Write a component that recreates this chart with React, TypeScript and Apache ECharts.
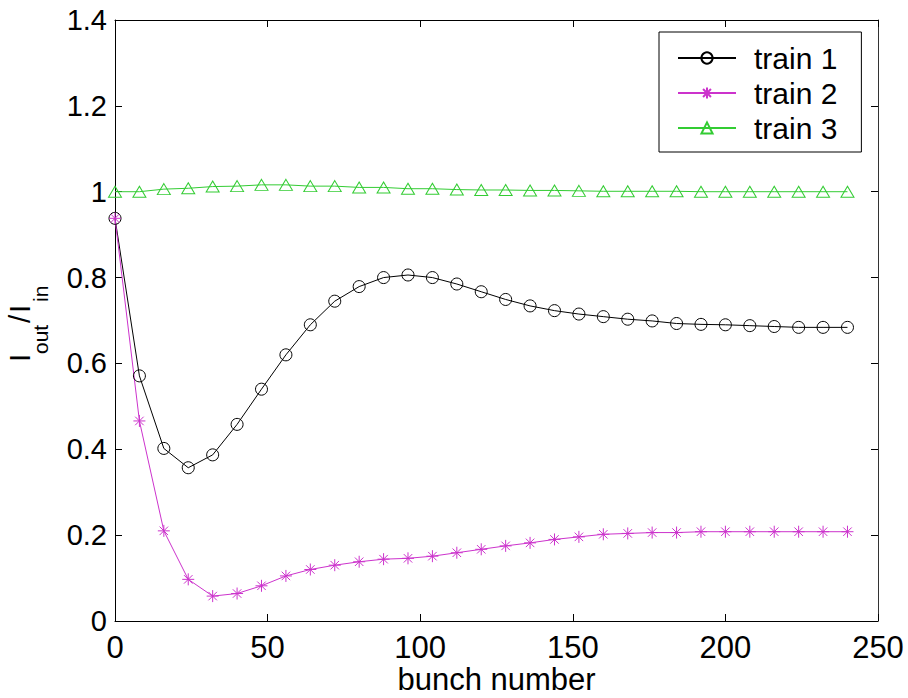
import React, { useEffect, useRef } from "react";
import * as echarts from "echarts";

const bunch = [0, 8, 16, 24, 32, 40, 48, 56, 64, 72, 80, 88, 96, 104, 112, 120, 128, 136, 144, 152, 160, 168, 176, 184, 192, 200, 208, 216, 224, 232, 240];
const train1 = [0.938, 0.571, 0.402, 0.357, 0.387, 0.458, 0.540, 0.620, 0.690, 0.745, 0.779, 0.800, 0.806, 0.800, 0.785, 0.767, 0.749, 0.734, 0.723, 0.715, 0.709, 0.703, 0.699, 0.693, 0.691, 0.690, 0.688, 0.686, 0.684, 0.684, 0.684];
const train2 = [0.938, 0.466, 0.210, 0.097, 0.058, 0.064, 0.082, 0.105, 0.120, 0.130, 0.138, 0.144, 0.146, 0.151, 0.159, 0.167, 0.175, 0.182, 0.190, 0.196, 0.202, 0.204, 0.206, 0.206, 0.208, 0.208, 0.208, 0.208, 0.208, 0.208, 0.208];
const train3 = [1.000, 1.000, 1.006, 1.008, 1.012, 1.013, 1.016, 1.016, 1.013, 1.013, 1.010, 1.010, 1.007, 1.007, 1.005, 1.004, 1.004, 1.003, 1.003, 1.002, 1.001, 1.001, 1.001, 1.001, 1.000, 1.000, 1.000, 1.000, 1.000, 1.000, 1.000];
const seriesNames = ["train 1", "train 2", "train 3"];
const xTitle = "bunch number";

const FONT = "Liberation Sans, Arial, sans-serif";
const STAR = "path://M0,-10L0,10M-10,0L10,0M-7.07,-7.07L7.07,7.07M-7.07,7.07L7.07,-7.07";

export default function App() {
  const ref = useRef<HTMLDivElement>(null);
  useEffect(() => {
    if (!ref.current) return;
    const chart = echarts.init(ref.current, null, { renderer: "svg" });
    const axisLine = { show: true, onZero: false, lineStyle: { color: "#000", width: 1 } };
    const axisTick = { show: true, inside: true, length: 7, lineStyle: { color: "#000", width: 1 } };
    const mk = (name: string, ys: number[], color: string, symbol: string, size: any) => ({
      name,
      type: "line",
      data: bunch.map((x, i) => [x, ys[i]]),
      symbol,
      symbolSize: size,
      showSymbol: true,
      showAllSymbol: true,
      lineStyle: { color, width: 1 },
      itemStyle: { color: "rgba(0,0,0,0)", borderColor: color, borderWidth: 1 },
      emphasis: { disabled: true },
      silent: true,
    });
    chart.setOption({
      animation: false,
      backgroundColor: "#fff",
      textStyle: { fontFamily: FONT },
      grid: { left: 115, top: 20, right: 30, bottom: 77, containLabel: false, outerBoundsMode: "none" },
      xAxis: [
        {
          type: "value", min: 0, max: 250, interval: 50, position: "bottom",
          axisLine, axisTick,
          axisLabel: { fontSize: 31, lineHeight: 31, color: "#000", margin: 11, fontFamily: FONT },
          splitLine: { show: false },
          name: xTitle, nameLocation: "middle", nameGap: 43, nameMoveOverlap: false,
          nameTextStyle: { fontSize: 31, lineHeight: 31, color: "#000", fontFamily: FONT },
        },
        {
          type: "value", min: 0, max: 250, interval: 50, position: "top",
          axisLine, axisTick, axisLabel: { show: false }, splitLine: { show: false },
        },
      ],
      yAxis: [
        {
          type: "value", min: 0, max: 1.4, interval: 0.2, position: "left",
          axisLine, axisTick,
          axisLabel: { fontSize: 29, color: "#000", margin: 8, fontFamily: FONT },
          splitLine: { show: false },
        },
        {
          type: "value", min: 0, max: 1.4, interval: 0.2, position: "right",
          axisLine: { show: true, onZero: false, lineStyle: { color: "#333", width: 1 } },
          axisTick, axisLabel: { show: false }, splitLine: { show: false },
        },
      ],
      legend: {
        orient: "vertical",
        left: 659,
        top: 32,
        padding: [11, 24, 9, 18],
        itemGap: 5,
        itemWidth: 58,
        itemHeight: 14,
        borderColor: "#000",
        borderWidth: 1,
        backgroundColor: "#fff",
        selectedMode: false,
        textStyle: { fontSize: 30, lineHeight: 30, color: "#000", fontFamily: FONT, padding: [0, 0, 0, 13] },
        data: seriesNames,
      },
      series: [
        mk(seriesNames[0], train1, "#000000", "circle", 12),
        mk(seriesNames[1], train2, "#cc33cc", STAR, 12),
        mk(seriesNames[2], train3, "#33cc33", "triangle", [13, 11]),
      ],
      graphic: [
        {
          type: "group",
          x: 0,
          y: 360,
          rotation: Math.PI / 2,
          silent: true,
          children: [
            { type: "text", x: -2, y: 19, style: { text: "I", fontSize: 30, fontFamily: FONT, fill: "#000", verticalAlign: "middle", align: "left" } },
            { type: "text", x: 6, y: 40, style: { text: "out", fontSize: 21, fontFamily: FONT, fill: "#000", verticalAlign: "middle", align: "left" } },
            { type: "text", x: 37, y: 19, style: { text: "/", fontSize: 30, fontFamily: FONT, fill: "#000", verticalAlign: "middle", align: "left" } },
            { type: "text", x: 47, y: 19, style: { text: "I", fontSize: 30, fontFamily: FONT, fill: "#000", verticalAlign: "middle", align: "left" } },
            { type: "text", x: 58, y: 40, style: { text: "in", fontSize: 21, fontFamily: FONT, fill: "#000", verticalAlign: "middle", align: "left" } },
          ],
        },
      ],
    });
    return () => chart.dispose();
  }, []);
  return <div ref={ref} style={{ width: 908, height: 698, position: "absolute", left: 0, top: 0 }} />;
}
